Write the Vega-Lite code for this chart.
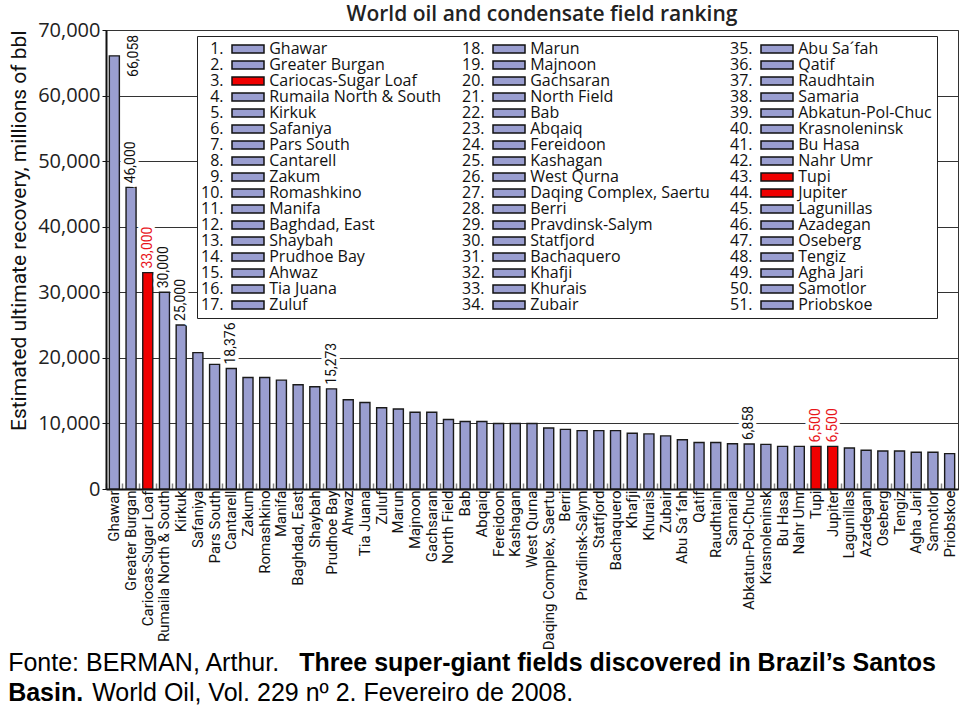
{
  "$schema": "https://vega.github.io/schema/vega-lite/v6.json",
  "background": "white",
  "padding": {"left": 8, "top": 3, "right": 0, "bottom": 0},
  "config": {
    "view": {"stroke": "#333", "strokeWidth": 1},
    "font": "Open Sans"
  },
  "title": {"text": "World Oil, Vol. 229 nº 2. Fevereiro de 2008.", "orient": "bottom", "anchor": "start", "frame": "bounds", "dx": 84, "offset": -25, "font": "Liberation Sans", "fontSize": 25, "fontWeight": "normal", "color": "black"},
  "vconcat": [
    {
      "title": {"text": "Basin.", "orient": "bottom", "anchor": "start", "frame": "bounds", "dx": 0, "offset": 5, "font": "Liberation Sans", "fontSize": 25, "fontWeight": "bold", "color": "black"},
      "vconcat": [
        {
          "title": {"text": "Three super-giant fields discovered in Brazil’s Santos", "orient": "bottom", "anchor": "start", "frame": "bounds", "dx": 291, "offset": -25, "font": "Liberation Sans", "fontSize": 25, "fontWeight": "bold", "color": "black"},
          "vconcat": [
            {
              "title": {"text": "Fonte: BERMAN, Arthur.", "orient": "bottom", "anchor": "start", "frame": "bounds", "dx": 0, "offset": 1, "font": "Liberation Sans", "fontSize": 25, "fontWeight": "normal", "color": "black"},
              "vconcat": [
                {
                  "width": 852,
                  "height": 459,
                  "title": {"text": "World oil and condensate field ranking", "font": "Open Sans", "fontSize": 21, "fontWeight": 600, "anchor": "middle", "dx": 10, "offset": -5, "color": "#222"},
                  "data": {"values": [
                    {"rank": 1, "name": "Ghawar", "entry": "1. Ghawar", "value": 66058, "brazil": false, "labeled": true},
                    {"rank": 2, "name": "Greater Burgan", "entry": "2. Greater Burgan", "value": 46000, "brazil": false, "labeled": true},
                    {"rank": 3, "name": "Cariocas-Sugar Loaf", "entry": "3. Cariocas-Sugar Loaf", "value": 33000, "brazil": true, "labeled": true},
                    {"rank": 4, "name": "Rumaila North & South", "entry": "4. Rumaila North & South", "value": 30000, "brazil": false, "labeled": true},
                    {"rank": 5, "name": "Kirkuk", "entry": "5. Kirkuk", "value": 25000, "brazil": false, "labeled": true},
                    {"rank": 6, "name": "Safaniya", "entry": "6. Safaniya", "value": 20800, "brazil": false, "labeled": false},
                    {"rank": 7, "name": "Pars South", "entry": "7. Pars South", "value": 19000, "brazil": false, "labeled": false},
                    {"rank": 8, "name": "Cantarell", "entry": "8. Cantarell", "value": 18376, "brazil": false, "labeled": true},
                    {"rank": 9, "name": "Zakum", "entry": "9. Zakum", "value": 17000, "brazil": false, "labeled": false},
                    {"rank": 10, "name": "Romashkino", "entry": "10. Romashkino", "value": 17000, "brazil": false, "labeled": false},
                    {"rank": 11, "name": "Manifa", "entry": "11. Manifa", "value": 16600, "brazil": false, "labeled": false},
                    {"rank": 12, "name": "Baghdad, East", "entry": "12. Baghdad, East", "value": 15900, "brazil": false, "labeled": false},
                    {"rank": 13, "name": "Shaybah", "entry": "13. Shaybah", "value": 15600, "brazil": false, "labeled": false},
                    {"rank": 14, "name": "Prudhoe Bay", "entry": "14. Prudhoe Bay", "value": 15273, "brazil": false, "labeled": true},
                    {"rank": 15, "name": "Ahwaz", "entry": "15. Ahwaz", "value": 13600, "brazil": false, "labeled": false},
                    {"rank": 16, "name": "Tia Juana", "entry": "16. Tia Juana", "value": 13200, "brazil": false, "labeled": false},
                    {"rank": 17, "name": "Zuluf", "entry": "17. Zuluf", "value": 12400, "brazil": false, "labeled": false},
                    {"rank": 18, "name": "Marun", "entry": "18. Marun", "value": 12200, "brazil": false, "labeled": false},
                    {"rank": 19, "name": "Majnoon", "entry": "19. Majnoon", "value": 11700, "brazil": false, "labeled": false},
                    {"rank": 20, "name": "Gachsaran", "entry": "20. Gachsaran", "value": 11700, "brazil": false, "labeled": false},
                    {"rank": 21, "name": "North Field", "entry": "21. North Field", "value": 10600, "brazil": false, "labeled": false},
                    {"rank": 22, "name": "Bab", "entry": "22. Bab", "value": 10300, "brazil": false, "labeled": false},
                    {"rank": 23, "name": "Abqaiq", "entry": "23. Abqaiq", "value": 10300, "brazil": false, "labeled": false},
                    {"rank": 24, "name": "Fereidoon", "entry": "24. Fereidoon", "value": 10000, "brazil": false, "labeled": false},
                    {"rank": 25, "name": "Kashagan", "entry": "25. Kashagan", "value": 10000, "brazil": false, "labeled": false},
                    {"rank": 26, "name": "West Qurna", "entry": "26. West Qurna", "value": 10000, "brazil": false, "labeled": false},
                    {"rank": 27, "name": "Daqing Complex, Saertu", "entry": "27. Daqing Complex, Saertu", "value": 9300, "brazil": false, "labeled": false},
                    {"rank": 28, "name": "Berri", "entry": "28. Berri", "value": 9100, "brazil": false, "labeled": false},
                    {"rank": 29, "name": "Pravdinsk-Salym", "entry": "29. Pravdinsk-Salym", "value": 8900, "brazil": false, "labeled": false},
                    {"rank": 30, "name": "Statfjord", "entry": "30. Statfjord", "value": 8900, "brazil": false, "labeled": false},
                    {"rank": 31, "name": "Bachaquero", "entry": "31. Bachaquero", "value": 8900, "brazil": false, "labeled": false},
                    {"rank": 32, "name": "Khafji", "entry": "32. Khafji", "value": 8500, "brazil": false, "labeled": false},
                    {"rank": 33, "name": "Khurais", "entry": "33. Khurais", "value": 8400, "brazil": false, "labeled": false},
                    {"rank": 34, "name": "Zubair", "entry": "34. Zubair", "value": 8100, "brazil": false, "labeled": false},
                    {"rank": 35, "name": "Abu Sa´fah", "entry": "35. Abu Sa´fah", "value": 7500, "brazil": false, "labeled": false},
                    {"rank": 36, "name": "Qatif", "entry": "36. Qatif", "value": 7100, "brazil": false, "labeled": false},
                    {"rank": 37, "name": "Raudhtain", "entry": "37. Raudhtain", "value": 7100, "brazil": false, "labeled": false},
                    {"rank": 38, "name": "Samaria", "entry": "38. Samaria", "value": 6900, "brazil": false, "labeled": false},
                    {"rank": 39, "name": "Abkatun-Pol-Chuc", "entry": "39. Abkatun-Pol-Chuc", "value": 6858, "brazil": false, "labeled": true},
                    {"rank": 40, "name": "Krasnoleninsk", "entry": "40. Krasnoleninsk", "value": 6800, "brazil": false, "labeled": false},
                    {"rank": 41, "name": "Bu Hasa", "entry": "41. Bu Hasa", "value": 6500, "brazil": false, "labeled": false},
                    {"rank": 42, "name": "Nahr Umr", "entry": "42. Nahr Umr", "value": 6500, "brazil": false, "labeled": false},
                    {"rank": 43, "name": "Tupi", "entry": "43. Tupi", "value": 6500, "brazil": true, "labeled": true},
                    {"rank": 44, "name": "Jupiter", "entry": "44. Jupiter", "value": 6500, "brazil": true, "labeled": true},
                    {"rank": 45, "name": "Lagunillas", "entry": "45. Lagunillas", "value": 6250, "brazil": false, "labeled": false},
                    {"rank": 46, "name": "Azadegan", "entry": "46. Azadegan", "value": 5900, "brazil": false, "labeled": false},
                    {"rank": 47, "name": "Oseberg", "entry": "47. Oseberg", "value": 5800, "brazil": false, "labeled": false},
                    {"rank": 48, "name": "Tengiz", "entry": "48. Tengiz", "value": 5800, "brazil": false, "labeled": false},
                    {"rank": 49, "name": "Agha Jari", "entry": "49. Agha Jari", "value": 5600, "brazil": false, "labeled": false},
                    {"rank": 50, "name": "Samotlor", "entry": "50. Samotlor", "value": 5600, "brazil": false, "labeled": false},
                    {"rank": 51, "name": "Priobskoe", "entry": "51. Priobskoe", "value": 5400, "brazil": false, "labeled": false}
                  ]},
                  "encoding": {
                    "x": {
                      "field": "name", "type": "nominal", "sort": null,
                      "scale": {"paddingInner": 0.4, "paddingOuter": 0.2},
                      "axis": {
                        "title": null, "labelAngle": 270, "labelFont": "Roboto",
                        "labelFontSize": 15, "labelColor": "#111", "labelPadding": 7, "bandPosition": -0.33,
                        "tickSize": -6, "tickColor": "#888", "tickWidth": 1.5, "domainColor": "#111", "domainWidth": 2, "labelLimit": 300
                      }
                    },
                    "y": {
                      "field": "value", "type": "quantitative",
                      "scale": {"domain": [0, 70000], "nice": false},
                      "axis": {
                        "values": [0, 10000, 20000, 30000, 40000, 50000, 60000, 70000], "format": ",d",
                        "labelFont": "Open Sans", "labelFontSize": 20, "labelColor": "#222", "labelPadding": 2,
                        "tickSize": 4, "tickColor": "#111", "domainColor": "#111", "domainWidth": 2,
                        "gridColor": "#333", "gridWidth": 1,
                        "title": "Estimated ultimate recovery, millions of bbl",
                        "titleFont": "Roboto", "titleFontSize": 21,
                        "titleFontWeight": "normal", "titleColor": "#111", "titleAnchor": "end", "titlePadding": 8
                      }
                    }
                  },
                  "layer": [
                    {
                      "mark": {"type": "bar", "stroke": "#1a1a1a", "strokeWidth": 1.4},
                      "encoding": {
                        "color": {
                          "field": "entry", "type": "nominal",
                          "scale": {
                            "domain": ["1. Ghawar","2. Greater Burgan","3. Cariocas-Sugar Loaf","4. Rumaila North & South","5. Kirkuk","6. Safaniya","7. Pars South","8. Cantarell","9. Zakum","10. Romashkino","11. Manifa","12. Baghdad, East","13. Shaybah","14. Prudhoe Bay","15. Ahwaz","16. Tia Juana","17. Zuluf","18. Marun","19. Majnoon","20. Gachsaran","21. North Field","22. Bab","23. Abqaiq","24. Fereidoon","25. Kashagan","26. West Qurna","27. Daqing Complex, Saertu","28. Berri","29. Pravdinsk-Salym","30. Statfjord","31. Bachaquero","32. Khafji","33. Khurais","34. Zubair","35. Abu Sa´fah","36. Qatif","37. Raudhtain","38. Samaria","39. Abkatun-Pol-Chuc","40. Krasnoleninsk","41. Bu Hasa","42. Nahr Umr","43. Tupi","44. Jupiter","45. Lagunillas","46. Azadegan","47. Oseberg","48. Tengiz","49. Agha Jari","50. Samotlor","51. Priobskoe"],
                            "range": ["#9a9ed0","#9a9ed0","#f00000","#9a9ed0","#9a9ed0","#9a9ed0","#9a9ed0","#9a9ed0","#9a9ed0","#9a9ed0","#9a9ed0","#9a9ed0","#9a9ed0","#9a9ed0","#9a9ed0","#9a9ed0","#9a9ed0","#9a9ed0","#9a9ed0","#9a9ed0","#9a9ed0","#9a9ed0","#9a9ed0","#9a9ed0","#9a9ed0","#9a9ed0","#9a9ed0","#9a9ed0","#9a9ed0","#9a9ed0","#9a9ed0","#9a9ed0","#9a9ed0","#9a9ed0","#9a9ed0","#9a9ed0","#9a9ed0","#9a9ed0","#9a9ed0","#9a9ed0","#9a9ed0","#9a9ed0","#f00000","#f00000","#9a9ed0","#9a9ed0","#9a9ed0","#9a9ed0","#9a9ed0","#9a9ed0","#9a9ed0"]
                          },
                          "legend": {
                            "orient": "none", "legendX": 91, "legendY": 6, "columns": 3, "title": null,
                            "symbolType": "M-4,-1H4V1H-4Z", "symbolSize": 64, "symbolStrokeColor": "#111", "symbolStrokeWidth": 1.5,
                            "labelFont": "Open Sans", "labelFontSize": 16, "labelColor": "#111", "labelLimit": 400,
                            "labelOffset": -55, "symbolOffset": 38, "rowPadding": 0, "columnPadding": 20, "padding": 5,
                            "strokeColor": "#222", "fillColor": "white", "symbolLimit": 60,
                            "labelExpr": "(indexof(datum.label, '.') < 2 ? '\u200b\u2007' : '') + replace(datum.label, '. ', '.\u00a0\u00a0\u00a0\u00a0\u00a0\u00a0\u00a0\u00a0\u00a0\u00a0\u00a0')"
                          }
                        }
                      }
                    },
                    {
                      "transform": [{"filter": "datum.labeled && datum.value < 60000"}],
                      "mark": {"type": "text", "angle": 270, "align": "left", "baseline": "middle", "dx": 4, "font": "Roboto", "fontSize": 14, "stroke": "white", "strokeWidth": 7, "fill": "white"},
                      "encoding": {"text": {"field": "value", "type": "quantitative", "format": ","}}
                    },
                    {
                      "transform": [{"filter": "datum.labeled && datum.value < 60000"}],
                      "mark": {"type": "text", "angle": 270, "align": "left", "baseline": "middle", "dx": 4, "font": "Roboto", "fontSize": 14},
                      "encoding": {
                        "text": {"field": "value", "type": "quantitative", "format": ","},
                        "color": {"condition": {"test": "datum.brazil", "value": "#e8141b"}, "value": "#111"}
                      }
                    },
                    {
                      "transform": [{"filter": "datum.labeled && datum.value >= 60000"}],
                      "mark": {"type": "text", "angle": 270, "align": "center", "baseline": "middle", "dy": 20, "font": "Roboto", "fontSize": 14, "color": "#111"},
                      "encoding": {"text": {"field": "value", "type": "quantitative", "format": ","}}
                    }
                  ]
                }
              ]
            }
          ]
        }
      ]
    }
  ]
}
